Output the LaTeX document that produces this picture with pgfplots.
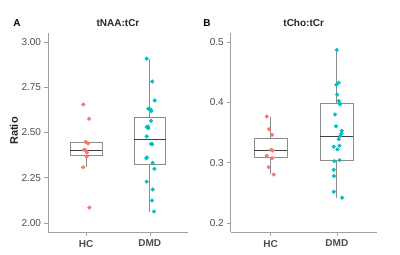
\documentclass[border=0pt]{standalone}
\usepackage{pgfplots}
\pgfplotsset{compat=1.18}
\usepgfplotslibrary{statistics}
\usepackage{fontspec}
\setmainfont{Liberation Sans}
\definecolor{hcred}{HTML}{F8766D}
\definecolor{dmdteal}{HTML}{00BFC4}
\definecolor{axgray}{HTML}{A0A0A0}
\definecolor{txtgray}{HTML}{4D4D4D}
\definecolor{boxgray}{HTML}{8C8C8C}
\pgfplotstableread{
x y
0.955 2.655
1.045 2.576
0.992 2.448
1.029 2.439
0.966 2.404
0.992 2.402
1.013 2.389
1.008 2.367
0.955 2.308
1.050 2.085
}\naahc
\pgfplotstableread{
x y
1.950 2.908
2.039 2.782
2.076 2.677
1.976 2.631
2.013 2.627
2.024 2.618
2.018 2.565
1.971 2.533
1.950 2.530
1.976 2.524
1.950 2.478
2.018 2.437
2.039 2.435
1.955 2.362
1.945 2.358
2.045 2.332
2.071 2.299
1.950 2.229
2.045 2.185
2.034 2.124
2.065 2.063
}\naadmd
\pgfplotstableread{
x y
0.942 0.3765
0.977 0.3555
1.023 0.3461
1.008 0.3213
1.033 0.3202
0.942 0.3114
1.023 0.3075
0.972 0.2926
1.048 0.2804
}\chohc
\pgfplotstableread{
x y
1.997 0.4868
1.992 0.4289
2.028 0.4327
2.003 0.4129
2.028 0.4024
2.038 0.3985
2.048 0.3969
1.972 0.3798
1.987 0.3605
2.073 0.3528
2.068 0.3483
2.053 0.3445
2.028 0.3390
1.952 0.3263
2.038 0.3280
2.008 0.3219
1.962 0.3026
2.043 0.3042
1.952 0.2882
1.957 0.2778
1.952 0.2518
2.078 0.2419
}\chodmd
\pgfplotsset{
  myax/.style={
    scale only axis, width=140pt, height=199pt, anchor=south west,
    axis x line*=bottom, axis y line*=left,
    axis line style={axgray, line width=0.9pt},
    xmin=0.4, xmax=2.6, xtick={1,2}, xticklabels={HC,DMD},
    tick align=outside, major tick length=3.5pt,
    tick style={axgray, line width=0.6pt},
    ticklabel style={font=\fontsize{10}{12}\selectfont, text=txtgray},
    x tick label style={font=\bfseries\fontsize{10}{12}\selectfont, yshift=-1pt},
    /pgf/number format/assume math mode=true,
    clip=false,
    boxplot/draw direction=y,
    boxplot/every box/.style={draw=boxgray, line width=0.8pt, fill=white},
    boxplot/every whisker/.style={draw=boxgray, line width=0.8pt},
    boxplot/every median/.style={draw=black!75, line width=0.9pt},
  },
  pts/.style={only marks, mark=*, mark size=1.85pt},
}
\begin{document}
\begin{tikzpicture}
\useasboundingbox (0,0) rectangle (400pt,255pt);
\begin{axis}[myax, at={(48pt,23pt)},
  ymin=1.95, ymax=3.05, ytick={2,2.25,2.5,2.75,3},
  yticklabel style={/pgf/number format/.cd, fixed, fixed zerofill, precision=2}]
\addplot[boxplot prepared={draw position=1, lower whisker=2.308, lower quartile=2.376,
  median=2.402, upper quartile=2.443, upper whisker=2.448, box extend=0.5, whisker extend=0}]
  coordinates {};
\addplot[boxplot prepared={draw position=2, lower whisker=2.063, lower quartile=2.323,
  median=2.459, upper quartile=2.583, upper whisker=2.908, box extend=0.5, whisker extend=0}]
  coordinates {};
\addplot[pts, color=hcred] table[x=x,y=y] {\naahc};
\addplot[pts, color=dmdteal] table[x=x,y=y] {\naadmd};
\node[font=\bfseries\fontsize{10}{12}\selectfont, text=black!85] at (rel axis cs:0.5,1) [yshift=10pt] {tNAA:tCr};
\end{axis}
\begin{axis}[myax, at={(230.7pt,23pt)}, width=146pt,
  ymin=0.185, ymax=0.515, ytick={0.2,0.3,0.4,0.5},
  yticklabel style={/pgf/number format/.cd, fixed, fixed zerofill, precision=1}]
\addplot[boxplot prepared={draw position=1, lower whisker=0.2816, lower quartile=0.308,
  median=0.3208, upper quartile=0.340, upper whisker=0.376, box extend=0.5, whisker extend=0}]
  coordinates {};
\addplot[boxplot prepared={draw position=2, lower whisker=0.242, lower quartile=0.3042,
  median=0.3434, upper quartile=0.3985, upper whisker=0.487, box extend=0.5, whisker extend=0}]
  coordinates {};
\addplot[pts, color=hcred] table[x=x,y=y] {\chohc};
\addplot[pts, color=dmdteal] table[x=x,y=y] {\chodmd};
\node[font=\bfseries\fontsize{10}{12}\selectfont, text=black!85] at (rel axis cs:0.5,1) [yshift=10pt] {tCho:tCr};
\end{axis}
\node[font=\bfseries\fontsize{10}{12}\selectfont] at (17pt,232.3pt) {A};
\node[font=\bfseries\fontsize{10}{12}\selectfont] at (207pt,232.3pt) {B};
\node[rotate=90, font=\bfseries\fontsize{11}{13}\selectfont, text=black!85] at (14pt,124pt) {Ratio};
\end{tikzpicture}
\end{document}
